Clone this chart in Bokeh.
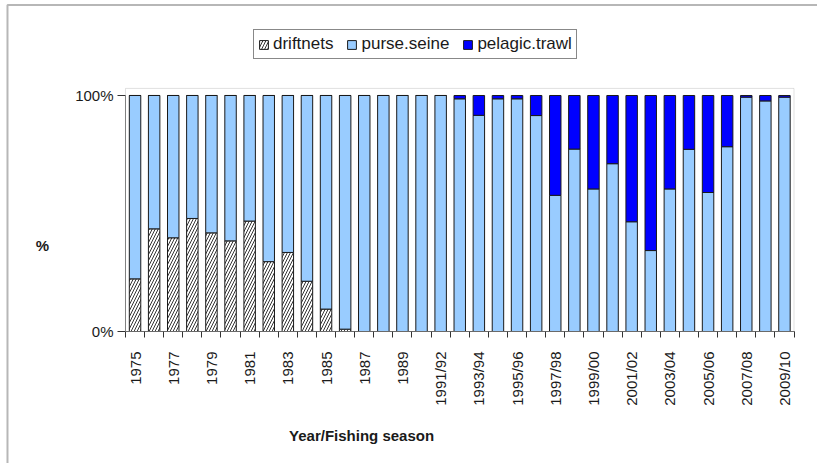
import math
from bokeh.plotting import figure
from bokeh.models import (ColumnDataSource, FixedTicker, Legend, LegendItem,
                          Label, BoxAnnotation, Range1d)
from bokeh.embed import file_html
from bokeh.resources import INLINE

seasons = ["1975", "1976", "1977", "1978", "1979", "1980", "1981", "1982",
           "1983", "1984", "1985", "1986", "1987", "1988", "1989", "1990",
           "1991/92", "1992/93", "1993/94", "1994/95", "1995/96", "1996/97",
           "1997/98", "1998/99", "1999/00", "2000/01", "2001/02", "2002/03",
           "2003/04", "2004/05", "2005/06", "2006/07", "2007/08", "2008/09",
           "2009/10"]

driftnets = [22.3, 43.5, 39.7, 47.9, 41.8, 38.4, 46.8, 29.6, 33.5, 21.3, 9.5, 1.0,
             0, 0, 0, 0,
             0, 0, 0, 0, 0, 0, 0, 0, 0, 0, 0, 0, 0, 0, 0, 0, 0, 0, 0]
purse_seine = [77.7, 56.5, 60.3, 52.1, 58.2, 61.6, 53.2, 70.4, 66.5, 78.7, 90.5, 99.0,
               100, 100, 100, 100,
               100, 98.6, 91.6, 98.6, 98.6, 91.5, 57.7, 77.3, 60.4, 71.1, 46.5,
               34.3, 60.4, 77.2, 58.9, 78.3, 99.3, 97.7, 99.3]
pelagic_trawl = [0, 0, 0, 0, 0, 0, 0, 0, 0, 0, 0, 0,
                 0, 0, 0, 0,
                 0, 1.4, 8.4, 1.4, 1.4, 8.5, 42.3, 22.7, 39.6, 28.9, 53.5,
                 65.7, 39.6, 22.8, 41.1, 21.7, 0.7, 2.3, 0.7]

series_names = ["driftnets", "purse.seine", "pelagic.trawl"]
y_ticks = [0, 100]
y_tick_labels = ["0%", "100%"]

FONT = "Liberation Sans"
TXT = "#1a1a1a"

n = len(seasons)
src = ColumnDataSource(dict(x=list(range(n)),
                            driftnets=driftnets,
                            purse=purse_seine,
                            pelagic=pelagic_trawl))

# frame covers the whole canvas; axes are pinned inside it
p = figure(width=817, height=463, output_backend="svg", toolbar_location=None,
           x_range=Range1d(-7.044, 35.73), y_range=Range1d(-55.93, 140.25),
           min_border=0, min_border_left=0, min_border_right=0,
           min_border_top=0, min_border_bottom=0)
p.background_fill_color = "white"
p.border_fill_color = "white"
p.outline_line_color = None
p.xgrid.visible = False
p.ygrid.visible = False

# plot-area border (faint, as in the original)
p.add_layout(BoxAnnotation(left=-0.5, right=n - 0.5, bottom=0, top=103,
                           fill_alpha=0, line_color="#9a9a9a", line_width=1))

rs = p.vbar_stack(["driftnets", "purse", "pelagic"], x="x", width=0.6, source=src,
                  fill_color=["white", "#99CCFF", "#0000FF"],
                  line_color="#1a1a1a", line_width=1,
                  hatch_pattern=["/", None, None],
                  hatch_color="black", hatch_scale=6, hatch_weight=0.8)

# x axis
xa = p.xaxis[0]
xa.fixed_location = 0
xa.bounds = (-0.5, n - 0.5)
xa.ticker = FixedTicker(ticks=list(range(0, n, 2)),
                        minor_ticks=[i - 0.5 for i in range(n + 1)])
xa.major_label_overrides = {i: seasons[i] for i in range(0, n, 2)}
xa.major_label_orientation = math.pi / 2
xa.major_tick_out = 0
xa.major_tick_in = 0
xa.minor_tick_out = 6
xa.minor_tick_in = 0
xa.minor_tick_line_color = "#333333"
xa.axis_line_color = "#555555"
xa.major_label_standoff = 14
xa.major_label_text_font = FONT
xa.major_label_text_font_size = "15px"
xa.major_label_text_color = TXT

# y axis
ya = p.yaxis[0]
ya.fixed_location = -0.5
ya.bounds = (0, 100)
ya.ticker = FixedTicker(ticks=y_ticks, minor_ticks=[])
ya.major_label_overrides = dict(zip(y_ticks, y_tick_labels))
ya.major_tick_out = 8
ya.major_tick_in = 0
ya.major_tick_line_color = "#333333"
ya.axis_line_color = "#777777"
ya.major_label_standoff = 4
ya.major_label_text_font = FONT
ya.major_label_text_font_size = "15px"
ya.major_label_text_color = TXT

# axis titles
p.add_layout(Label(x=11.86, y=-44.07, text="Year/Fishing season",
                   text_font=FONT, text_font_size="15px", text_font_style="bold",
                   text_color=TXT, text_align="center", text_baseline="middle"))
p.add_layout(Label(x=-4.846, y=36.44, text="%",
                   text_font=FONT, text_font_size="15px", text_font_style="bold",
                   text_color=TXT, text_align="center", text_baseline="middle"))

# chart-area border (top and left edges visible)
p.add_layout(BoxAnnotation(left=-6.678, right=100, bottom=-300, top=138.35,
                           fill_alpha=0, line_color="#111111", line_width=2))

legend = Legend(items=[LegendItem(label=s, renderers=[r]) for s, r in zip(series_names, rs)],
                orientation="horizontal", location=(253, 404),
                label_text_font=FONT, label_text_font_size="17px",
                label_text_color=TXT, glyph_width=11, glyph_height=11,
                label_height=17, label_standoff=4, spacing=13, padding=4, margin=0,
                border_line_color="#111111", border_line_width=1,
                background_fill_color="white", background_fill_alpha=1)
p.add_layout(legend, "center")

open("out.html", "w").write(file_html(p, INLINE))
